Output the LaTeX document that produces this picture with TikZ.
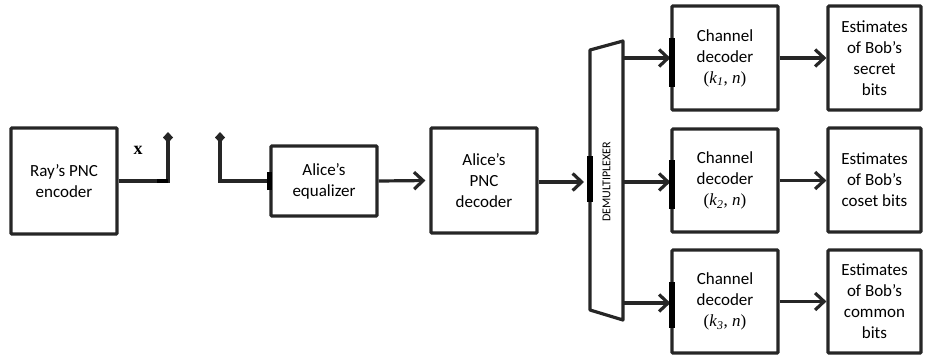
\documentclass[tikz,border=0pt]{standalone}
\usepackage{fontspec}
\setmainfont{Carlito}
\newfontfamily\serifk{Liberation Serif}
\usetikzlibrary{arrows.meta}
\tikzset{
  blk/.style={draw=black!85, line width=3.2pt, rounded corners=1pt, align=center, inner sep=0pt,
    font=\fontsize{17}{21}\selectfont, minimum width=106pt},
  est/.style={blk, minimum width=93pt},
  arr/.style={draw=black!85, line width=3.2pt, -{Straight Barb[length=9pt,width=17pt,line width=3.2pt]}},
  wire/.style={draw=black!85, line width=3.2pt},
  port/.style={draw=black, line width=5.5pt},
}
\newcommand{\kn}[1]{{\serifk(\textit{k}\textsubscript{\textit{#1}}, \textit{n})}}
\begin{document}
\begin{tikzpicture}[x=1pt,y=-1pt]
\useasboundingbox (0,0) rectangle (925,356);
% blocks
\node[blk, minimum height=106pt] (ray) at (64,181) {Ray’s PNC\\encoder};
\node[blk, minimum height=70pt] (eq) at (324,181) {Alice’s\\equalizer};
\node[blk, minimum height=105pt] (pnc) at (484,180.5) {Alice’s\\PNC\\decoder};
\node[blk, minimum height=104pt] (cd1) at (725,58) {Channel\\decoder\\\kn{1}};
\node[blk, minimum height=103pt] (cd2) at (725,180.5) {Channel\\decoder\\\kn{2}};
\node[blk, minimum height=103pt] (cd3) at (725,301.5) {Channel\\decoder\\\kn{3}};
\node[est, minimum height=104pt] (e1) at (874.5,58) {Estimates\\of Bob’s\\secret\\bits};
\node[est, minimum height=104pt] (e2) at (874.5,180) {Estimates\\of Bob’s\\coset bits};
\node[est, minimum height=103pt] (e3) at (874.5,301.5) {Estimates\\of Bob’s\\common\\bits};
% demultiplexer
\coordinate (dtl) at (590,50);
\coordinate (dtr) at (623,41);
\coordinate (dbr) at (623,320);
\coordinate (dbl) at (590,310);
\draw[wire, line join=round] (dtl) -- (dtr) -- (dbr) -- (dbl) -- cycle;
\node[rotate=90, font=\fontsize{12}{14}\selectfont] (dlab) at (606.5,182) {DEMULTIPLEXER};
\coordinate (din) at (590,182);
\coordinate (do1) at (623,58);
\coordinate (do2) at (623,182);
\coordinate (do3) at (623,303);
% antennas
\coordinate (ant1) at (168,132);
\coordinate (ant2) at (220,132);
\coordinate (c1) at (168,181);
\coordinate (c2) at (220,181);
\draw[wire, -{Diamond[length=11pt,width=10pt]}] (ray.east) -- (c1) -- (ant1);
\draw[wire, -{Diamond[length=11pt,width=10pt]}] (eq.west) -- (c2) -- (ant2);
\node[font=\serifk\bfseries\fontsize{18}{20}\selectfont] (xl) at (138,150) {x};
% arrows
\draw[arr, shorten >=4pt] (eq.east) -- (pnc.west);
\draw[arr, shorten >=6pt] (pnc.east |- din) -- (din);
\draw[arr] (do1) -- (cd1.west);
\draw[arr] (do2) -- (cd2.west |- do2);
\draw[arr] (do3) -- (cd3.west |- do3);
\draw[arr] (cd1.east) -- (e1.west);
\draw[arr] (cd2.east) -- (e2.west |- cd2.east);
\draw[arr] (cd3.east) -- (e3.west |- cd3.east);
% port marks
\draw[port] ([yshift=-9pt]eq.west) -- ([yshift=9pt]eq.west);
\draw[port] ([yshift=-20pt]din) -- ([yshift=26pt]din);
\draw[port] (672,38) -- (672,87);
\draw[port] (672,160) -- (672,209);
\draw[port] (672,282) -- (672,328);
\draw[draw=black, line width=4.5pt] (157,181) -- (168,181);
\end{tikzpicture}
\end{document}
